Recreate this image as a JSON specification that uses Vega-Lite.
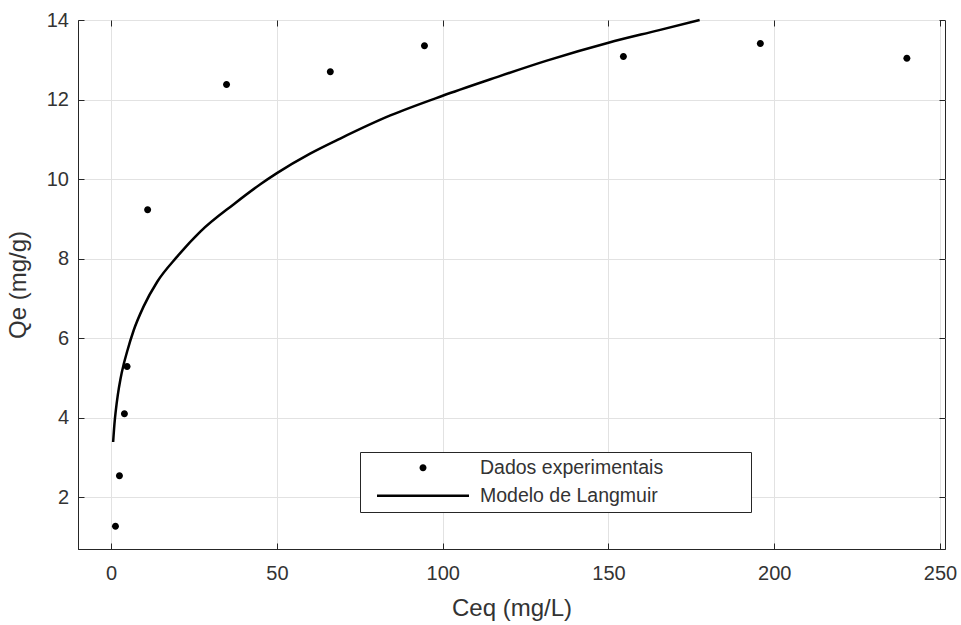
{
  "$schema": "https://vega.github.io/schema/vega-lite/v6.json",
  "width": 867,
  "height": 529,
  "autosize": {"type": "none"},
  "padding": {"left": 78, "top": 20, "right": 16, "bottom": 76},
  "background": "white",
  "config": {
    "view": {"stroke": "#262626", "strokeWidth": 1},
    "font": "Liberation Sans",
    "axis": {
      "labelFont": "Liberation Sans",
      "titleFont": "Liberation Sans",
      "labelFontSize": 20,
      "titleFontSize": 24,
      "titleFontWeight": "normal",
      "labelColor": "#333333",
      "titleColor": "#333333",
      "domainColor": "#262626",
      "tickColor": "#262626",
      "gridColor": "#e2e2e2",
      "gridWidth": 1,
      "tickSize": -6,
      "tickWidth": 1
    }
  },
  "datasets": {
    "pts": [
      {"Ceq": 1.3, "Qe": 1.27, "serie": "Dados experimentais"},
      {"Ceq": 2.5, "Qe": 2.54, "serie": "Dados experimentais"},
      {"Ceq": 4.0, "Qe": 4.10, "serie": "Dados experimentais"},
      {"Ceq": 4.8, "Qe": 5.29, "serie": "Dados experimentais"},
      {"Ceq": 11.0, "Qe": 9.23, "serie": "Dados experimentais"},
      {"Ceq": 34.8, "Qe": 12.38, "serie": "Dados experimentais"},
      {"Ceq": 66.1, "Qe": 12.70, "serie": "Dados experimentais"},
      {"Ceq": 94.5, "Qe": 13.35, "serie": "Dados experimentais"},
      {"Ceq": 154.5, "Qe": 13.08, "serie": "Dados experimentais"},
      {"Ceq": 195.8, "Qe": 13.41, "serie": "Dados experimentais"},
      {"Ceq": 240.0, "Qe": 13.04, "serie": "Dados experimentais"}
    ],
    "modelo": [
      {"Ceq": 0.6, "Qe": 3.39},
      {"Ceq": 1.0, "Qe": 3.85},
      {"Ceq": 1.4, "Qe": 4.18},
      {"Ceq": 2.0, "Qe": 4.57},
      {"Ceq": 2.8, "Qe": 4.97},
      {"Ceq": 3.8, "Qe": 5.35},
      {"Ceq": 4.8, "Qe": 5.66},
      {"Ceq": 6.8, "Qe": 6.2},
      {"Ceq": 9.8, "Qe": 6.8},
      {"Ceq": 13.9, "Qe": 7.42},
      {"Ceq": 19.9, "Qe": 8.05},
      {"Ceq": 26.9, "Qe": 8.68},
      {"Ceq": 37.0, "Qe": 9.37},
      {"Ceq": 45.0, "Qe": 9.87},
      {"Ceq": 50.0, "Qe": 10.15},
      {"Ceq": 60.0, "Qe": 10.64},
      {"Ceq": 69.1, "Qe": 11.02},
      {"Ceq": 84.2, "Qe": 11.6},
      {"Ceq": 99.8, "Qe": 12.09},
      {"Ceq": 114.4, "Qe": 12.51},
      {"Ceq": 131.4, "Qe": 12.98},
      {"Ceq": 150.0, "Qe": 13.43},
      {"Ceq": 165.0, "Qe": 13.74},
      {"Ceq": 177.5, "Qe": 14.0}
    ]
  },
  "resolve": {"axis": {"x": "independent", "y": "independent"}},
  "layer": [
    {
      "data": {"name": "pts"},
      "mark": {"type": "point", "filled": true, "color": "black", "size": 100, "opacity": 1},
      "encoding": {
        "x": {
          "field": "Ceq", "type": "quantitative",
          "scale": {"domain": [-10, 251.5], "nice": false, "zero": false},
          "axis": {"orient": "bottom", "values": [0, 50, 100, 150, 200, 250], "grid": true, "title": "Ceq (mg/L)", "labelPadding": 20.5, "titlePadding": 13}
        },
        "y": {
          "field": "Qe", "type": "quantitative",
          "scale": {"domain": [0.7, 14], "nice": false, "zero": false},
          "axis": {"orient": "left", "values": [2, 4, 6, 8, 10, 12, 14], "grid": true, "title": "Qe (mg/g)", "labelPadding": 15.5, "titlePadding": 16}
        },
        "shape": {
          "field": "serie", "type": "nominal",
          "scale": {
            "domain": ["Dados experimentais", "Modelo de Langmuir"],
            "range": ["M-0.7,0A0.7,0.7,0,1,0,0.7,0A0.7,0.7,0,1,0,-0.7,0Z", "M-9.2,-0.25L9.2,-0.25L9.2,0.25L-9.2,0.25Z"]
          },
          "legend": {
            "title": null,
            "orient": "none",
            "legendX": 282,
            "legendY": 432,
            "strokeColor": "#262626",
            "fillColor": "white",
            "padding": 6,
            "symbolSize": 100,
            "symbolFillColor": "black",
            "symbolStrokeColor": "transparent",
            "symbolStrokeWidth": 0,
            "symbolOpacity": 1,
            "symbolOffset": 47.25,
            "labelFont": "Liberation Sans",
            "labelFontSize": 19.5,
            "labelColor": "#333333",
            "labelOffset": 47.25,
            "labelLimit": 600,
            "labelExpr": "datum.label + '\u00a0\u00a0\u00a0\u00a0\u00a0\u00a0\u00a0\u00a0\u00a0\u00a0\u00a0\u00a0\u00a0\u00a0\u00a0\u200b'",
            "rowPadding": 7
          }
        }
      }
    },
    {
      "data": {"name": "modelo"},
      "mark": {"type": "line", "color": "black", "strokeWidth": 2.5, "interpolate": "monotone"},
      "encoding": {
        "x": {
          "field": "Ceq", "type": "quantitative",
          "axis": {"orient": "top", "values": [0, 50, 100, 150, 200, 250], "grid": false, "labels": false, "domain": false, "title": null}
        },
        "y": {
          "field": "Qe", "type": "quantitative",
          "axis": {"orient": "right", "values": [2, 4, 6, 8, 10, 12, 14], "grid": false, "labels": false, "domain": false, "title": null}
        }
      }
    }
  ]
}
